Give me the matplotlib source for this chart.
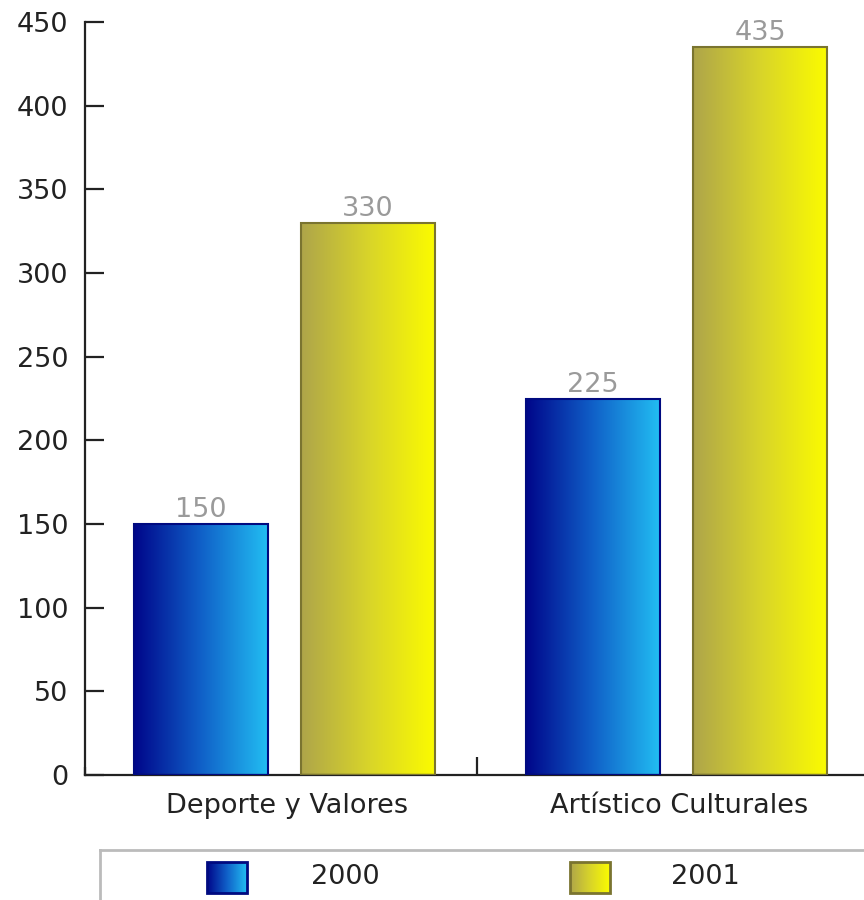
import numpy as np
import matplotlib.pyplot as plt
from matplotlib.colors import LinearSegmentedColormap
from matplotlib.patches import Rectangle

categories = ['Deporte y Valores', 'Artístico Culturales']
years = ['2000', '2001']
values_2000 = [150, 225]
values_2001 = [330, 435]
yticks = [0, 50, 100, 150, 200, 250, 300, 350, 400, 450]

blue_cmap = LinearSegmentedColormap.from_list('blue_grad', ['#00068a', '#1060c8', '#22bdf2'])
yellow_cmap = LinearSegmentedColormap.from_list('yellow_grad', ['#aea54a', '#d8d42a', '#fbfb00'])
edge_colors = ['#000a80', '#7a7430']
cmaps = [blue_cmap, yellow_cmap]

FS = 19.5
plt.rcParams['font.family'] = ['DejaVu Sans']

fig = plt.figure(figsize=(8.64, 9), dpi=100)
ax = fig.add_axes([85 / 864, 1 - 775 / 900, 1 - 85 / 864, (775 - 22) / 900])

grad = np.linspace(0, 1, 256).reshape(1, -1)
x = np.arange(len(categories)) + 0.009
width = 0.34
offset = 0.213

def gradient_bars(xpos, vals, cmap, edge):
    bars = ax.bar(xpos, vals, width, facecolor='none', edgecolor=edge, linewidth=1.5, zorder=3)
    for b in bars:
        x0, y0 = b.get_x(), b.get_y()
        ax.imshow(grad, cmap=cmap, aspect='auto', zorder=2,
                  extent=(x0, x0 + b.get_width(), y0, y0 + b.get_height()))
    for xi, v in zip(xpos, vals):
        ax.text(xi, v + 0.5, str(v), ha='center', va='bottom', color='#9a9a9a', fontsize=FS, zorder=4)
    return bars

gradient_bars(x - offset, values_2000, blue_cmap, edge_colors[0])
gradient_bars(x + offset, values_2001, yellow_cmap, edge_colors[1])

ax.set_xlim(-0.5, 1.487)
ax.set_ylim(0, 450)

for side in ['top', 'right']:
    ax.spines[side].set_visible(False)
for side in ['left', 'bottom']:
    ax.spines[side].set_linewidth(1.6)
    ax.spines[side].set_color('#222222')

ax.set_yticks(yticks)
ax.tick_params(axis='y', direction='in', length=14, width=1.6, color='#222222',
               labelsize=FS, pad=12, labelcolor='#222222')
ax.set_xticks(x + 0.006)
ax.set_xticklabels(categories)
ax.set_xticks([-0.5, 0.5], minor=True)
ax.tick_params(axis='x', which='major', length=0, labelsize=FS, pad=13, labelcolor='#222222')
ax.tick_params(axis='x', which='minor', direction='in', length=13, width=1.6, color='#222222')
ax.xaxis.get_minor_ticks()[0].tick2line.set_visible(False)
ax.xaxis.get_minor_ticks()[0].tick1line.set_markersize(6)

# legend strip at the bottom
lax = fig.add_axes([100 / 864, -0.02, 1, 0.02 + 50 / 900])
lax.set_xticks([])
lax.set_yticks([])
for s in lax.spines.values():
    s.set_color('#bbbbbb')
    s.set_linewidth(2)
patch_x = [207, 570]
text_x = [345, 705]
for px, tx, cmap, edge, yr in zip(patch_x, text_x, cmaps, edge_colors, years):
    lax.imshow(grad, cmap=cmap, aspect='auto', extent=(px, px + 40, 25, 56), zorder=2)
    lax.add_patch(Rectangle((px, 25), 40, 31, facecolor='none', edgecolor=edge, linewidth=2, zorder=3))
    lax.text(tx, 41, yr, ha='center', va='center', fontsize=FS, color='#222222')
lax.set_xlim(100, 964)
lax.set_ylim(0, 68)

fig.savefig('out.png', dpi=100)
